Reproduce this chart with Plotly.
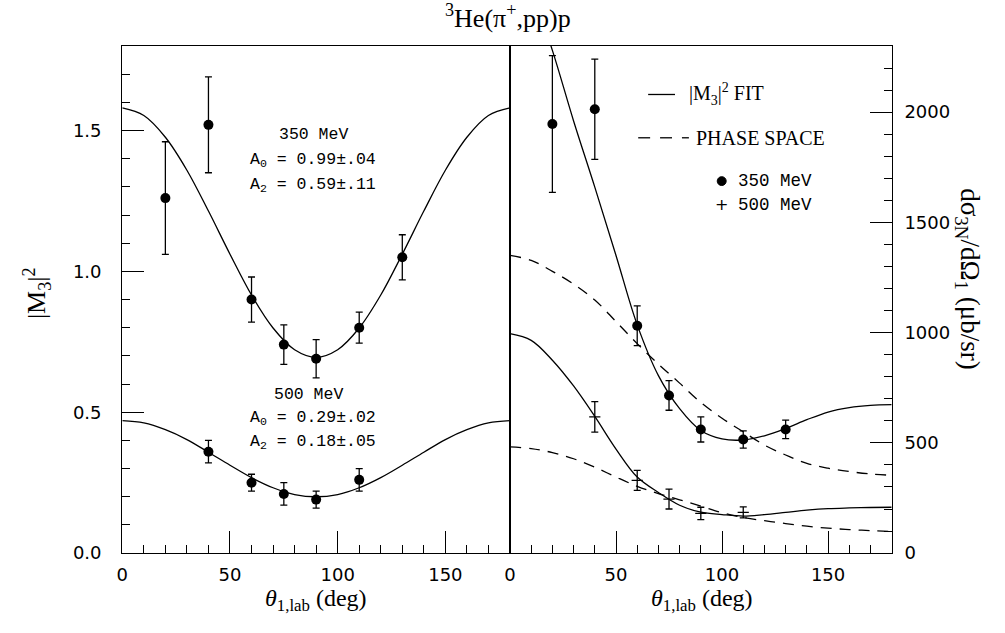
import plotly.graph_objects as go

# ---------------- data ----------------
theta_pts = [20, 40, 60, 75, 90, 110, 130]
m3_350 = [1.26, 1.52, 0.90, 0.74, 0.69, 0.80, 1.05]
m3_350_err = [0.20, 0.17, 0.08, 0.07, 0.068, 0.055, 0.08]

theta_500 = [40, 60, 75, 90, 110]
m3_500 = [0.36, 0.25, 0.21, 0.19, 0.26]
m3_500_err = [0.04, 0.03, 0.04, 0.03, 0.04]

xs_350 = [1946, 2013, 1031, 715, 561, 515, 561]
xs_350_err = [310, 227, 90, 67, 57, 39, 42]
xs_500 = [618, 330, 245, 180, 185]
xs_500_err = [69, 45, 45, 28, 25]

theta_curve = [0, 10, 20, 30, 40, 50, 60, 70, 80, 90,
               100, 110, 120, 130, 140, 150, 160, 170, 180]
fit_m3_350 = [1.580, 1.553, 1.476, 1.359, 1.214, 1.061, 0.916, 0.799, 0.722, 0.695,
              0.722, 0.799, 0.916, 1.061, 1.214, 1.359, 1.476, 1.553, 1.580]
fit_m3_500 = [0.470, 0.462, 0.438, 0.403, 0.358, 0.312, 0.268, 0.232, 0.208, 0.200,
              0.208, 0.232, 0.268, 0.312, 0.358, 0.403, 0.438, 0.462, 0.470]
fit_xs_350 = [2750, 2560, 2280, 1960, 1660, 1350, 1035, 805, 655, 556,
              518, 513, 532, 565, 605, 640, 660, 670, 673]
ps_xs_350 = [1350, 1328, 1278, 1220, 1148, 1050, 950, 857, 771, 683,
             612, 550, 490, 445, 407, 385, 370, 359, 353]
fit_xs_500 = [995, 965, 875, 758, 620, 472, 345, 275, 217, 186,
              175, 168, 175, 185, 195, 202, 205, 207, 208]
ps_xs_500 = [482, 474, 456, 428, 390, 345, 303, 270, 242, 213,
             183, 162, 147, 134, 122, 113, 107, 102, 98]

# ---------------- figure ----------------
W, H = 1005, 633
def px(x): return x / W
def py(y): return 1 - y / H

SERIF = "Liberation Serif"
SANS = "DejaVu Sans"
MONO = "Liberation Mono"
LW = 1.3

fig = go.Figure()

# left panel curves
for ys in (fit_m3_350, fit_m3_500):
    fig.add_trace(go.Scatter(x=theta_curve, y=ys, mode="lines", line=dict(color="black", width=LW, shape="spline"),
                             xaxis="x", yaxis="y", showlegend=False, hoverinfo="skip"))
fig.add_trace(go.Scatter(x=theta_pts, y=m3_350, mode="markers",
                         marker=dict(color="black", size=10, symbol="circle"),
                         error_y=dict(type="data", array=m3_350_err, color="black", thickness=1.3, width=3.5),
                         xaxis="x", yaxis="y", showlegend=False))
fig.add_trace(go.Scatter(x=theta_500, y=m3_500, mode="markers",
                         marker=dict(color="black", size=10, symbol="circle"),
                         error_y=dict(type="data", array=m3_500_err, color="black", thickness=1.3, width=3.5),
                         xaxis="x", yaxis="y", showlegend=False))

# right panel curves
fig.add_trace(go.Scatter(x=theta_curve, y=fit_xs_350, mode="lines", line=dict(color="black", width=LW, shape="spline"),
                         xaxis="x2", yaxis="y2", showlegend=False, hoverinfo="skip"))
fig.add_trace(go.Scatter(x=theta_curve, y=fit_xs_500, mode="lines", line=dict(color="black", width=LW, shape="spline"),
                         xaxis="x2", yaxis="y2", showlegend=False, hoverinfo="skip"))
fig.add_trace(go.Scatter(x=theta_curve, y=ps_xs_350, mode="lines",
                         line=dict(color="black", width=LW, shape="spline", dash="11px,8px"),
                         xaxis="x2", yaxis="y2", showlegend=False, hoverinfo="skip"))
fig.add_trace(go.Scatter(x=theta_curve, y=ps_xs_500, mode="lines",
                         line=dict(color="black", width=LW, shape="spline", dash="11px,8px"),
                         xaxis="x2", yaxis="y2", showlegend=False, hoverinfo="skip"))
fig.add_trace(go.Scatter(x=theta_pts, y=xs_350, mode="markers",
                         marker=dict(color="black", size=10, symbol="circle"),
                         error_y=dict(type="data", array=xs_350_err, color="black", thickness=1.3, width=3.5),
                         xaxis="x2", yaxis="y2", showlegend=False))
fig.add_trace(go.Scatter(x=theta_500, y=xs_500, mode="markers",
                         marker=dict(color="black", size=8, symbol="line-ew", line=dict(color="black", width=1.3)),
                         error_y=dict(type="data", array=xs_500_err, color="black", thickness=1.3, width=3.5),
                         xaxis="x2", yaxis="y2", showlegend=False))

ydom = [py(562), py(46.7)]
tickfont = dict(family=SANS, size=18, color="black")
xcommon = dict(range=[0, 180], dtick=50, tick0=0, ticks="inside", ticklen=22, tickwidth=1.2, tickcolor="black",
               minor=dict(dtick=10, ticks="inside", ticklen=8, tickwidth=1.2, tickcolor="black"),
               showline=True, linecolor="black", linewidth=1.3, mirror=True, showgrid=False, zeroline=False,
               tickfont=tickfont, ticklabelstandoff=5, fixedrange=True)

fig.update_layout(
    width=W, height=H, margin=dict(l=0, r=0, t=0, b=0),
    paper_bgcolor="white", plot_bgcolor="white", showlegend=False,
    xaxis=dict(domain=[px(117), px(507)], anchor="y", **xcommon),
    xaxis2=dict(domain=[px(507), px(891)], anchor="y2", **xcommon),
    yaxis=dict(domain=ydom, anchor="x", range=[0, 1.8], dtick=0.5, tick0=0, tickformat=".1f",
               ticks="inside", ticklen=22, tickwidth=1.2, tickcolor="black",
               minor=dict(dtick=0.1, ticks="inside", ticklen=8, tickwidth=1.2, tickcolor="black"),
               showline=True, linecolor="black", linewidth=1.3, mirror=True, showgrid=False, zeroline=False,
               tickfont=tickfont, ticklabelstandoff=16),
    yaxis2=dict(domain=ydom, anchor="x2", side="right", range=[0, 2300], dtick=500, tick0=0,
                ticks="inside", ticklen=22, tickwidth=1.2, tickcolor="black",
                minor=dict(dtick=100, ticks="inside", ticklen=8, tickwidth=1.2, tickcolor="black"),
                showline=True, linecolor="black", linewidth=1.3, mirror=True, showgrid=False, zeroline=False,
                tickfont=tickfont, ticklabelstandoff=8),
)

ann = []
def text(x, y, s, font, size, xanchor="center", angle=0):
    ann.append(dict(x=px(x), y=py(y), xref="paper", yref="paper", text=s, showarrow=False,
                    xanchor=xanchor, yanchor="middle", textangle=angle,
                    font=dict(family=font, size=size, color="black")))

text(505, 17, "<sup>3</sup>He(π<sup>+</sup>,pp)p", SERIF, 26)
text(31, 298, "|M<sub>3</sub>|<sup>2</sup>", SERIF, 26, angle=-90)
text(968, 283, "dσ<sub>3N</sub>/dΩ<sub>1</sub> (μb/sr)", SERIF, 27, angle=90)
text(312, 610, "<i>θ</i><sub>1,lab</sub> (deg)", SERIF, 24)
text(700, 610, "<i>θ</i><sub>1,lab</sub> (deg)", SERIF, 24)

text(309, 137, "350 MeV", MONO, 16.5)
text(309, 163, "A<sub>0</sub> = 0.99±.04", MONO, 16.5)
text(309, 188, "A<sub>2</sub> = 0.59±.11", MONO, 16.5)
text(304, 401, "500 MeV", MONO, 16.5)
text(309, 425, "A<sub>0</sub> = 0.29±.02", MONO, 16.5)
text(309, 449, "A<sub>2</sub> = 0.18±.05", MONO, 16.5)

# legend
text(685, 96, "|M<sub>3</sub>|<sup>2</sup> FIT", SERIF, 20, xanchor="left")
text(692, 140, "PHASE SPACE", SERIF, 20, xanchor="left")
text(734, 184, "350 MeV", MONO, 17.5, xanchor="left")
text(734, 208, "500 MeV", MONO, 17.5, xanchor="left")
text(720, 208, "+", SANS, 16)

shapes = [
    dict(type="line", xref="paper", yref="paper", x0=px(646), x1=px(673), y0=py(96), y1=py(96),
         line=dict(color="black", width=LW)),
    dict(type="line", xref="paper", yref="paper", x0=px(636), x1=px(648), y0=py(140), y1=py(140),
         line=dict(color="black", width=LW)),
    dict(type="line", xref="paper", yref="paper", x0=px(658), x1=px(670), y0=py(140), y1=py(140),
         line=dict(color="black", width=LW)),
    dict(type="line", xref="paper", yref="paper", x0=px(680), x1=px(687), y0=py(140), y1=py(140),
         line=dict(color="black", width=LW)),
    dict(type="circle", xref="paper", yref="paper", x0=px(715.5), x1=px(724.5), y0=py(188.5), y1=py(179.5),
         fillcolor="black", line=dict(color="black", width=1)),
]
fig.update_layout(annotations=ann, shapes=shapes)

fig.write_html("out.html")
